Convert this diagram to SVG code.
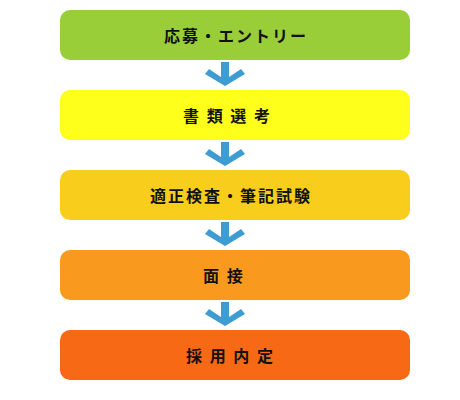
<svg xmlns="http://www.w3.org/2000/svg" width="460" height="400" viewBox="0 0 460 400">
<defs>
<style>
.box{stroke:none}
.lbl{font-family:"Noto Sans CJK JP","Noto Sans CJK SC",sans-serif;font-size:16px;font-weight:bold;fill:#111;letter-spacing:2px}
.arr{fill:#3d9cd1}
</style>
<polygon id="arrow" class="arr" points="221,0 229,0 229,15 241,7 245,12 225,24 205,12 209,7 221,15"/>
</defs>
<rect width="460" height="400" fill="#fff"/>
<g id="connectors">
<use href="#arrow" x="0" y="62"/>
<use href="#arrow" x="0" y="142"/>
<use href="#arrow" x="0" y="222"/>
<use href="#arrow" x="0" y="302"/>
</g>
<g id="n1"><rect class="box" x="60" y="10" width="350" height="50" rx="10" fill="#9ace38"/><text class="lbl" x="164" y="41.5">応募・エントリー</text></g>
<g id="n2"><rect class="box" x="60" y="90" width="350" height="50" rx="10" fill="#ffff1c"/><text class="lbl" x="183" y="121.5">書 類 選 考</text></g>
<g id="n3"><rect class="box" x="60" y="170" width="350" height="50" rx="10" fill="#f9cd1c"/><text class="lbl" x="150" y="201.5">適正検査・筆記試験</text></g>
<g id="n4"><rect class="box" x="60" y="250" width="350" height="50" rx="10" fill="#f99a1f"/><text class="lbl" x="203" y="281.5">面 接</text></g>
<g id="n5"><rect class="box" x="60" y="330" width="350" height="50" rx="10" fill="#f76915"/><text class="lbl" x="186" y="361.5">採 用 内 定</text></g>
</svg>
